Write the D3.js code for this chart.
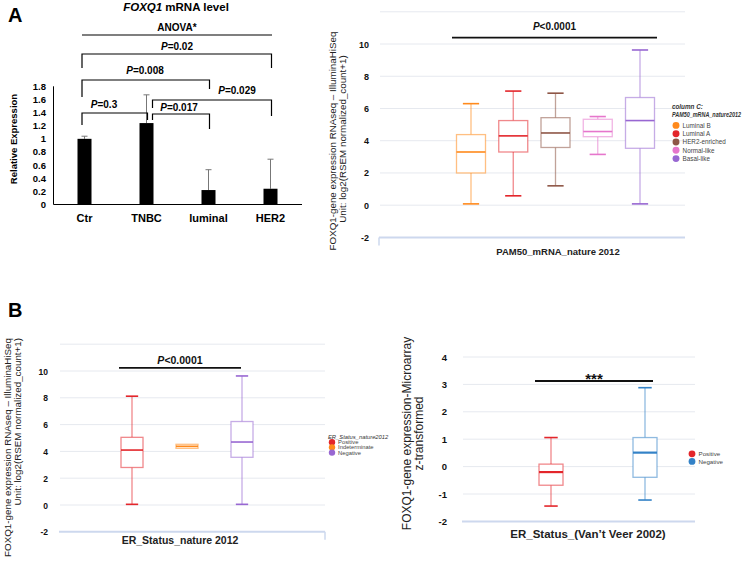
<!DOCTYPE html>
<html>
<head>
<meta charset="utf-8">
<script src="https://cdn.jsdelivr.net/npm/d3@7"></script>
<style>
  body { margin: 0; background: #fff; }
  svg { display: block; font-family: "Liberation Sans", Arial, sans-serif; }
</style>
</head>
<body>
<script>
// panel A, bar chart
var barCats = ['Ctr', 'TNBC', 'luminal', 'HER2'];
var barMeans = [1.0, 1.24, 0.22, 0.24];
var barErr = [0.04, 0.43, 0.31, 0.45];
var barTicks = [0, 0.2, 0.4, 0.6, 0.8, 1, 1.2, 1.4, 1.6, 1.8];
var compLabels = ['0.02', '0.008', '0.029', '0.3', '0.017'];
var compFrom = [0, 0, 1, 0, 1];
var compTo = [3, 2, 3, 1, 2];

// panel A, PAM50 boxes
var pamCats = ['Luminal B', 'Luminal A', 'HER2-enriched', 'Normal-like', 'Basal-like'];
var pamLow = [0.08, 0.58, 1.2, 3.15, 0.08];
var pamQ1 = [2.0, 3.3, 3.58, 4.25, 3.53];
var pamMed = [3.3, 4.3, 4.48, 4.57, 5.25];
var pamQ3 = [4.38, 5.25, 5.43, 5.33, 6.68];
var pamHigh = [6.3, 7.08, 6.95, 5.5, 9.63];

// panel B, ER status (nature 2012)
var erCats = ['Positive', 'Indeterminate', 'Negative'];
var erLow = [0.05, 4.23, 0.05];
var erQ1 = [2.8, 4.23, 3.56];
var erMed = [4.1, 4.38, 4.7];
var erQ3 = [5.05, 4.53, 6.23];
var erHigh = [8.12, 4.53, 9.63];

// panel B, ER status (Van't Veer 2002)
var vvCats = ['Positive', 'Negative'];
var vvLow = [-1.44, -1.22];
var vvQ1 = [-0.68, -0.39];
var vvMed = [-0.2, 0.51];
var vvQ3 = [0.09, 1.06];
var vvHigh = [1.06, 2.88];

var boxTicks = [-2, 0, 2, 4, 6, 8, 10];
var boxGrid = [-2, 0, 2, 4, 6, 8, 10, 12];
var vvTicks = [-2, -1, 0, 1, 2, 3, 4];

var colors = {
  'Luminal B': '#ff8a1c', 'Luminal A': '#e3262b', 'HER2-enriched': '#8e5646',
  'Normal-like': '#e676cc', 'Basal-like': '#9867d2',
  'Positive': '#e3262b', 'Indeterminate': '#ff8a1c', 'Negative': '#9867d2'
};
var vvColors = { 'Positive': '#e3262b', 'Negative': '#3382c7' };

var svg = d3.select('body').append('svg').attr('width', 753).attr('height', 569);

// panel letters
svg.append('text').attr('x', 8).attr('y', 22).attr('font-size', 20).attr('font-weight', 'bold').text('A');
svg.append('text').attr('x', 8).attr('y', 317).attr('font-size', 20).attr('font-weight', 'bold').text('B');

// ---------- bar chart ----------
var bx = d3.scalePoint().domain(barCats).range([53.5, 301.5]).padding(0.5);
var by = d3.scaleLinear().domain([0, 1.8]).range([204.5, 86.3]);
var g1 = svg.append('g');

var title = g1.append('text').attr('x', 176).attr('y', 11).attr('text-anchor', 'middle')
  .attr('font-size', 11.5).attr('font-weight', 'bold');
title.append('tspan').attr('font-style', 'italic').text('FOXQ1');
title.append('tspan').text(' mRNA level');

g1.append('line').attr('x1', 53.5).attr('x2', 53.5).attr('y1', by(1.8)).attr('y2', by(0)).attr('stroke', '#000');
g1.append('line').attr('x1', 53.5).attr('x2', 302).attr('y1', by(0)).attr('y2', by(0)).attr('stroke', '#000');

g1.selectAll('.btick').data(barTicks).enter().append('text')
  .attr('x', 46).attr('y', d => by(d) + 3.5).attr('text-anchor', 'end')
  .attr('font-size', 9.5).attr('font-weight', 'bold').text(d => d);

g1.append('text').attr('transform', 'translate(17,139) rotate(-90)').attr('text-anchor', 'middle')
  .attr('font-size', 9.5).attr('font-weight', 'bold').text('Relative Expression');

g1.selectAll('.errl').data(barCats).enter().append('line')
  .attr('x1', d => bx(d)).attr('x2', d => bx(d))
  .attr('y1', (d, i) => by(barMeans[i])).attr('y2', (d, i) => by(barMeans[i] + barErr[i]))
  .attr('stroke', '#777').attr('stroke-width', 1);
g1.selectAll('.errc').data(barCats).enter().append('line')
  .attr('x1', d => bx(d) - 3).attr('x2', d => bx(d) + 3)
  .attr('y1', (d, i) => by(barMeans[i] + barErr[i])).attr('y2', (d, i) => by(barMeans[i] + barErr[i]))
  .attr('stroke', '#777').attr('stroke-width', 1);
g1.selectAll('.bar').data(barCats).enter().append('rect')
  .attr('x', d => bx(d) - 7).attr('width', 14)
  .attr('y', (d, i) => by(barMeans[i])).attr('height', (d, i) => by(0) - by(barMeans[i]))
  .attr('fill', '#000');

g1.selectAll('.bcat').data(barCats).enter().append('text')
  .attr('x', d => bx(d)).attr('y', 222).attr('text-anchor', 'middle')
  .attr('font-size', 11).attr('font-weight', 'bold').text(d => d);

// ANOVA line
g1.append('line').attr('x1', 82).attr('x2', 272).attr('y1', 35).attr('y2', 35).attr('stroke', '#000').attr('stroke-width', 1.2);
g1.append('text').attr('x', 177).attr('y', 31).attr('text-anchor', 'middle')
  .attr('font-size', 10).attr('font-weight', 'bold').text('ANOVA*');

// comparison brackets: bar y, left leg end, right leg end, label y, label x
var brLayout = [
  { y: 54, l: 68, r: 68, ty: 50, tx: 177 },
  { y: 80, l: 97, r: 89, ty: 74, tx: 145 },
  { y: 100, l: 108, r: 116, ty: 94, tx: 237 },
  { y: 113, l: 125, r: 120, ty: 108, tx: 104 },
  { y: 114, l: 120, r: 129, ty: 111, tx: 179 }
];
compLabels.forEach((lab, i) => {
  var L = brLayout[i];
  var x1 = bx(barCats[compFrom[i]]) - 2.5;
  var x2 = bx(barCats[compTo[i]]) + 1;
  if (compFrom[i] === 1) { x1 = bx(barCats[1]) + 6; }
  g1.append('path').attr('d', 'M' + x1 + ',' + L.l + 'V' + L.y + 'H' + x2 + 'V' + L.r)
    .attr('fill', 'none').attr('stroke', '#000').attr('stroke-width', 1.2);
  var t = g1.append('text').attr('x', L.tx).attr('y', L.ty).attr('text-anchor', 'middle')
    .attr('font-size', 10).attr('font-weight', 'bold');
  t.append('tspan').attr('font-style', 'italic').text('P');
  t.append('tspan').text('=' + lab);
});

// ---------- generic box plot ----------
function boxPanel(opt) {
  var g = svg.append('g');
  var y = d3.scaleLinear().domain(opt.ydom).range(opt.yrange);
  var x = d3.scalePoint().domain(opt.cats).range(opt.xrange);

  g.selectAll('.grid').data(opt.grid.slice(1)).enter().append('line')
    .attr('x1', opt.gx[0]).attr('x2', opt.gx[1]).attr('y1', d => y(d)).attr('y2', d => y(d))
    .attr('stroke', '#e6e9ef').attr('stroke-width', 1);
  g.append('line').attr('x1', opt.gx[0] - 1).attr('x2', opt.gx[1]).attr('y1', y(opt.ydom[0])).attr('y2', y(opt.ydom[0]))
    .attr('stroke', '#cdd8ee').attr('stroke-width', 2);
  if (opt.vtick !== undefined) {
    g.append('line').attr('x1', opt.vtick).attr('x2', opt.vtick).attr('y1', y(opt.ydom[0])).attr('y2', y(opt.ydom[0]) + 8)
      .attr('stroke', '#cdd8ee').attr('stroke-width', 1.5);
  }

  g.selectAll('.tk').data(opt.ticks).enter().append('text')
    .attr('x', opt.tickX).attr('y', d => y(d) + 3.5).attr('text-anchor', 'end')
    .attr('font-size', opt.tickSize).attr('font-weight', 'bold').attr('fill', '#111').text(d => d);

  var bw = opt.bw;
  opt.cats.forEach((c, i) => {
    var col = opt.colors[c];
    var cx = x(c);
    g.append('line').attr('x1', cx).attr('x2', cx).attr('y1', y(opt.high[i])).attr('y2', y(opt.q3[i]))
      .attr('stroke', col).attr('stroke-opacity', 0.55).attr('stroke-width', 1.3);
    g.append('line').attr('x1', cx).attr('x2', cx).attr('y1', y(opt.q1[i])).attr('y2', y(opt.low[i]))
      .attr('stroke', col).attr('stroke-opacity', 0.55).attr('stroke-width', 1.3);
    g.append('rect').attr('x', cx - bw / 2).attr('width', bw)
      .attr('y', y(opt.q3[i])).attr('height', y(opt.q1[i]) - y(opt.q3[i]))
      .attr('fill', '#fff').attr('stroke', col).attr('stroke-opacity', 0.55).attr('stroke-width', 1.3);
    g.append('line').attr('x1', cx - bw / 2).attr('x2', cx + bw / 2).attr('y1', y(opt.med[i])).attr('y2', y(opt.med[i]))
      .attr('stroke', col).attr('stroke-width', opt.medW || 1.6);
    if (opt.low[i] !== opt.q1[i]) {
      [opt.low[i], opt.high[i]].forEach(v => {
        g.append('line').attr('x1', cx - bw * 0.28).attr('x2', cx + bw * 0.28).attr('y1', y(v)).attr('y2', y(v))
          .attr('stroke', col).attr('stroke-width', 1.6);
      });
    }
  });

  // significance bar
  g.append('line').attr('x1', opt.sig.x1).attr('x2', opt.sig.x2).attr('y1', opt.sig.y).attr('y2', opt.sig.y)
    .attr('stroke', '#111').attr('stroke-width', 1.8);
  var st = g.append('text').attr('x', (opt.sig.x1 + opt.sig.x2) / 2).attr('y', opt.sig.ty)
    .attr('text-anchor', 'middle').attr('font-size', opt.sig.size).attr('font-weight', 'bold').attr('fill', '#111');
  if (opt.sig.label === '***') {
    st.text('***');
  } else {
    st.append('tspan').attr('font-style', 'italic').text('P');
    st.append('tspan').text('<0.0001');
  }

  // y label
  opt.ylab.forEach(l => {
    g.append('text').attr('transform', 'translate(' + l.x + ',' + l.y + ') rotate(-90)')
      .attr('text-anchor', l.anchor).attr('font-size', l.size).attr('fill', '#222').text(l.text);
  });

  // x label
  g.append('text').attr('x', opt.xlab.x).attr('y', opt.xlab.y).attr('text-anchor', 'middle')
    .attr('font-size', opt.xlab.size).attr('font-weight', 'bold').attr('fill', '#222').text(opt.xlab.text);

  // legend
  var lg = opt.legend;
  var ly = lg.y;
  lg.title.forEach((t, k) => {
    var tt = g.append('text').attr('x', lg.x - 4).attr('y', ly).attr('font-size', lg.size)
      .attr('font-style', 'italic').attr('font-weight', lg.titleWeight || 'bold').attr('fill', '#333').text(t);
    if (lg.titleLen && lg.titleLen[k]) {
      tt.attr('textLength', lg.titleLen[k]).attr('lengthAdjust', 'spacingAndGlyphs');
    }
    ly += lg.step;
  });
  ly += lg.gap || 0;
  opt.cats.forEach((c, i) => {
    g.append('circle').attr('cx', lg.x).attr('cy', ly + i * lg.step - lg.size * 0.35).attr('r', lg.size * 0.55)
      .attr('fill', opt.colors[c]);
    g.append('text').attr('x', lg.x + lg.size * 1.05).attr('y', ly + i * lg.step).attr('font-size', lg.size)
      .attr('fill', '#444').text(c);
  });
}

boxPanel({
  cats: pamCats, low: pamLow, q1: pamQ1, med: pamMed, q3: pamQ3, high: pamHigh, colors: colors,
  ydom: [-2, 12], yrange: [237.4, 11.8], xrange: [471, 640], bw: 29,
  grid: boxGrid, ticks: boxTicks, gx: [380, 685], vtick: 379,
  tickX: 369, tickSize: 9,
  sig: { x1: 452, x2: 657, y: 37.7, ty: 29.5, size: 10 },
  ylab: [
    { x: 336, y: 141, anchor: 'middle', size: 9.8, text: 'FOXQ1-gene expression RNAseq \u2013 IlluminaHiSeq' },
    { x: 346, y: 139, anchor: 'middle', size: 9.8, text: 'Unit: log2(RSEM normalized_count+1)' }
  ],
  xlab: { x: 558, y: 255, size: 9.5, text: 'PAM50_mRNA_nature 2012' },
  legend: { x: 676, y: 109, step: 8.3, size: 6.3, gap: 2, title: ['column C:', 'PAM50_mRNA_nature2012'], titleLen: [null, 69] }
});

boxPanel({
  cats: erCats, low: erLow, q1: erQ1, med: erMed, q3: erQ3, high: erHigh, colors: colors,
  ydom: [-2, 12], yrange: [531.8, 344.2], xrange: [132, 242], bw: 22,
  grid: boxGrid, ticks: boxTicks, gx: [60, 325], vtick: 325,
  tickX: 48, tickSize: 8.5,
  sig: { x1: 119, x2: 241, y: 367.8, ty: 364, size: 10.5 },
  ylab: [
    { x: 11, y: 338, anchor: 'end', size: 9.8, text: 'FOXQ1-gene expression RNAseq \u2013 IlluminaHiSeq' },
    { x: 21, y: 338, anchor: 'end', size: 9.8, text: 'Unit: log2(RSEM normalized_count+1)' }
  ],
  xlab: { x: 180, y: 544, size: 10.5, text: 'ER_Status_nature 2012' },
  legend: { x: 332, y: 439, step: 5.2, size: 5.8, titleWeight: 'normal', title: ['ER_Status_nature2012'] }
});

boxPanel({
  cats: vvCats, low: vvLow, q1: vvQ1, med: vvMed, q3: vvQ3, high: vvHigh, colors: vvColors,
  ydom: [-2, 4], yrange: [521.4, 357], xrange: [551, 645], bw: 24, medW: 2.2,
  grid: vvTicks, ticks: vvTicks, gx: [463, 695],
  tickX: 447, tickSize: 9.5,
  sig: { x1: 535, x2: 653, y: 381, ty: 384, size: 15, label: '***' },
  ylab: [
    { x: 411, y: 433.5, anchor: 'middle', size: 12, text: 'FOXQ1-gene expression-Microarray' },
    { x: 423, y: 433.5, anchor: 'middle', size: 12, text: 'z-transformed' }
  ],
  xlab: { x: 588, y: 538, size: 11.5, text: 'ER_Status_(Van\u2019t Veer 2002)' },
  legend: { x: 692, y: 456, step: 7.6, size: 6.2, title: [] }
});
</script>
</body>
</html>
